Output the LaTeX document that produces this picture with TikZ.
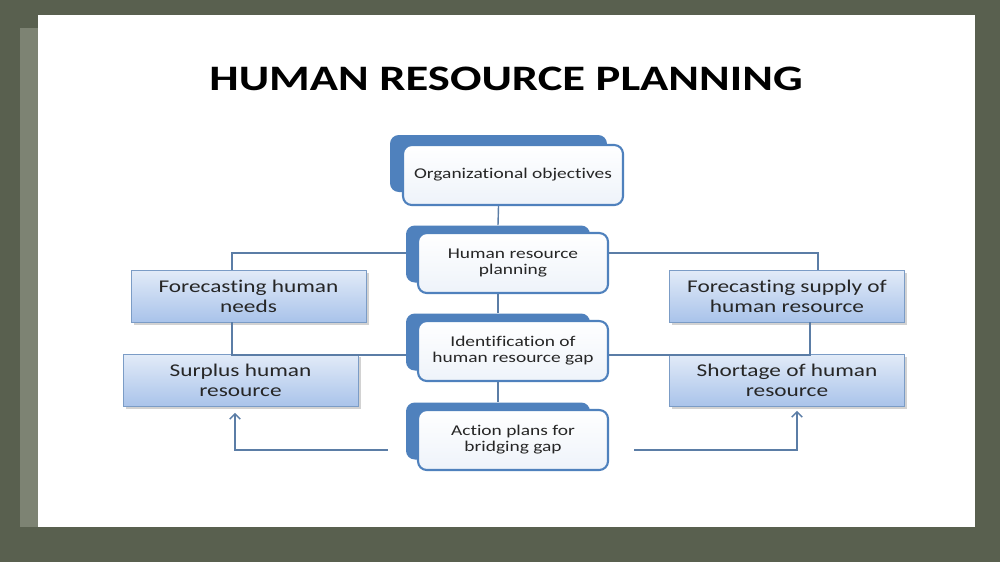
\documentclass[tikz,border=0pt]{standalone}
\usepackage{fontspec}
\setmainfont[FakeStretch=1.3,Ligatures={NoCommon}]{Carlito}
\usetikzlibrary{arrows.meta,shadows}
\definecolor{frame}{HTML}{59604F}
\definecolor{strip}{HTML}{7D8373}
\definecolor{tabblue}{HTML}{4F81BD}
\definecolor{frontbot}{HTML}{EEF3FA}
\definecolor{sidetop}{HTML}{E2EBF8}
\definecolor{sidebot}{HTML}{A9C3EA}
\definecolor{sideline}{HTML}{7B9CC6}
\definecolor{linkblue}{HTML}{5B7DA6}
\definecolor{txt}{HTML}{262626}
\begin{document}
\begin{tikzpicture}[x=0.02cm,y=-0.02cm]
    \tikzset{>={Straight Barb[length=3pt,width=6pt]},
      tab/.style={fill=tabblue, rounded corners=5pt, minimum width=3.68cm, minimum height=1.14cm},
      front/.style={draw=tabblue, line width=1.2pt, top color=white, bottom color=frontbot, rounded corners=5pt,
        minimum width=3.8cm, minimum height=1.2cm, align=center, text=txt, font=\fontsize{8.5}{9.2}\selectfont},
      side/.style={draw=sideline, top color=sidetop, bottom color=sidebot, minimum width=4.7cm, minimum height=1.04cm,
        align=center, text=txt, font=\fontsize{10.2}{11.4}\selectfont,
        drop shadow={opacity=0.35, shadow xshift=1.5pt, shadow yshift=-1.5pt}},
      link/.style={draw=linkblue, line width=0.8pt}}
    \fill[frame] (0,0) rectangle (1000,562);
    \fill[strip] (20,28) rectangle (38,527);
    \fill[white] (38,15) rectangle (975,527);
    \useasboundingbox (0,0) rectangle (1000,562);
    \node[font=\fontsize{20.4}{25}\selectfont\bfseries] (title) at (506,79) {HUMAN RESOURCE PLANNING};
    \node[tab, minimum width=4.34cm] (orgtab) at (498.5,163.5) {};
    \node[front, minimum width=4.4cm] (org) at (513,175) {Organizational objectives};
    \node[tab] (hrptab) at (498,254) {};
    \node[front] (hrp) at (513,263) {Human resource\\planning};
    \node[tab] (idtab) at (498,342) {};
    \node[front] (id) at (513,351) {Identification of\\human resource gap};
    \node[tab] (acttab) at (498,431) {};
    \node[front] (act) at (513,440) {Action plans for\\bridging gap};
    \node[side] (needs) at (248.5,296) {Forecasting human\\needs};
    \node[side] (surplus) at (240.5,380.5) {Surplus human\\resource};
    \node[side] (supply) at (787,296) {Forecasting supply of\\human resource};
    \node[side] (shortage) at (787,380.5) {Shortage of human\\resource};
    \coordinate (lx) at (232,253);
    \coordinate (rx) at (818,253);
    \coordinate (lm) at (232,355);
    \coordinate (rm) at (810,355);
    \coordinate (lb) at (235,450);
    \coordinate (rb) at (797,450);
    \draw[link] (orgtab.south |- org.south) -- (hrptab.north);
    \draw[link] (hrptab.south |- hrp.south) -- (idtab.north);
    \draw[link] (idtab.south |- id.south) -- (acttab.north);
    \draw[link] (hrptab.west |- lx) -- (lx) -- (lx |- needs.north);
    \draw[link] (hrp.east |- rx) -- (rx) -- (rx |- supply.north);
    \draw[link] (lm |- needs.south) -- (lm) -- (idtab.west |- lm);
    \draw[link] (rm |- supply.south) -- (rm) -- (id.east |- rm);
    \draw[link,->,shorten <=0.36cm,shorten >=0.12cm] (acttab.west |- lb) -- (lb) -- (lb |- surplus.south);
    \draw[link,->,shorten <=0.5cm,shorten >=0.08cm] (act.east |- rb) -- (rb) -- (rb |- shortage.south);
\end{tikzpicture}
\end{document}
